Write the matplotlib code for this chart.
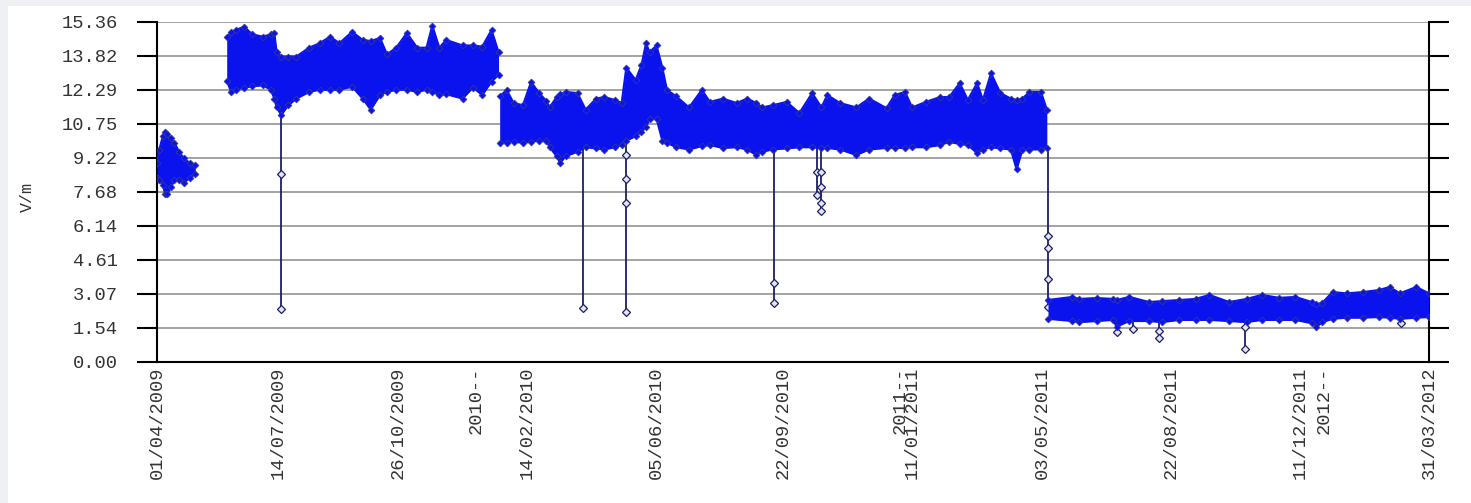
import pandas as pd
import matplotlib.pyplot as plt
from matplotlib.patches import Rectangle

seg1_dates = ["2009-04-01", "2009-04-03", "2009-04-06", "2009-04-08", "2009-04-10", "2009-04-13",
              "2009-04-16", "2009-04-20", "2009-04-24", "2009-04-29", "2009-05-04"]
seg1_high = [9.0, 9.6, 10.2, 10.4, 10.3, 10.1, 9.9, 9.5, 9.2, 9.0, 8.9]
seg1_low = [8.3, 8.2, 8.0, 7.6, 7.6, 7.9, 8.2, 8.2, 8.1, 8.3, 8.5]

seg2_dates = ["2009-05-31", "2009-06-04", "2009-06-08", "2009-06-15", "2009-06-22", "2009-07-01",
              "2009-07-08", "2009-07-11", "2009-07-13", "2009-07-17", "2009-07-23", "2009-07-30",
              "2009-08-10", "2009-08-19", "2009-08-28", "2009-09-05", "2009-09-16", "2009-09-25",
              "2009-10-02", "2009-10-10", "2009-10-16", "2009-10-24", "2009-11-02", "2009-11-11",
              "2009-11-19", "2009-11-24", "2009-11-30", "2009-12-06", "2009-12-20", "2009-12-29",
              "2010-01-06", "2010-01-14", "2010-01-20"]
seg2_high = [14.7, 14.9, 15.0, 15.15, 14.8, 14.7, 14.8, 14.86, 14.0, 13.8, 13.8, 13.8,
             14.2, 14.4, 14.7, 14.4, 14.92, 14.55, 14.5, 14.64, 13.9, 14.2, 14.86, 14.2,
             14.2, 15.2, 14.2, 14.55, 14.3, 14.3, 14.25, 15.0, 14.0]
seg2_low = [12.7, 12.2, 12.3, 12.4, 12.45, 12.5, 12.3, 11.9, 11.5, 11.16, 11.6, 11.9,
            12.2, 12.3, 12.3, 12.3, 12.44, 11.9, 11.4, 12.06, 12.2, 12.3, 12.3, 12.2,
            12.3, 12.2, 12.06, 12.1, 11.9, 12.4, 12.06, 12.67, 12.97]

seg3_dates = ["2010-01-21", "2010-01-27", "2010-02-02", "2010-02-10", "2010-02-17", "2010-02-24",
              "2010-03-02", "2010-03-05", "2010-03-11", "2010-03-14", "2010-03-19", "2010-03-29",
              "2010-04-05", "2010-04-14", "2010-04-21", "2010-04-30", "2010-05-06", "2010-05-10",
              "2010-05-18", "2010-05-23", "2010-05-27", "2010-05-30", "2010-06-05", "2010-06-10",
              "2010-06-14", "2010-06-22", "2010-07-03", "2010-07-14", "2010-07-21", "2010-08-01",
              "2010-08-13", "2010-08-22", "2010-08-30", "2010-09-04", "2010-09-13", "2010-09-25",
              "2010-10-06", "2010-10-17", "2010-10-25", "2010-10-30", "2010-11-10", "2010-11-24",
              "2010-12-05", "2010-12-20", "2010-12-27", "2011-01-05", "2011-01-11", "2011-01-23",
              "2011-02-04", "2011-02-12", "2011-02-21", "2011-02-28", "2011-03-08", "2011-03-13",
              "2011-03-20", "2011-03-28", "2011-04-06", "2011-04-11", "2011-04-16", "2011-04-22",
              "2011-05-02", "2011-05-07"]
seg3_high = [12.0, 12.29, 11.7, 11.6, 12.65, 12.15, 11.8, 11.5, 11.97, 12.1, 12.2, 12.15,
             11.4, 11.9, 11.97, 11.84, 11.7, 13.3, 12.74, 13.4, 14.4, 14.0, 14.3, 13.3,
             12.29, 12.0, 11.5, 12.29, 11.75, 11.9, 11.7, 11.9, 11.7, 11.5, 11.6, 11.75,
             11.25, 12.15, 11.5, 12.06, 11.7, 11.5, 11.9, 11.47, 12.06, 12.2, 11.5, 11.75,
             11.97, 11.97, 12.6, 11.84, 12.6, 11.84, 13.05, 12.15, 11.9, 11.84, 11.9, 12.2,
             12.2, 11.4]
seg3_low = [9.9, 9.9, 9.95, 9.9, 9.95, 10.0, 10.0, 9.7, 9.3, 9.0, 9.3, 9.5,
            9.7, 9.65, 9.6, 9.7, 9.8, 10.0, 10.2, 10.4, 10.6, 11.0, 11.0, 10.0,
            9.9, 9.7, 9.6, 9.75, 9.8, 9.67, 9.7, 9.6, 9.35, 9.5, 9.6, 9.65,
            9.7, 9.7, 9.65, 9.67, 9.6, 9.35, 9.6, 9.67, 9.67, 9.67, 9.7, 9.7,
            9.8, 9.94, 9.85, 9.8, 9.44, 9.6, 9.7, 9.65, 9.6, 8.7, 9.6, 9.6,
            9.6, 9.67]

seg4_dates = ["2011-05-08", "2011-05-29", "2011-06-04", "2011-06-19", "2011-07-03", "2011-07-06",
              "2011-07-17", "2011-08-03", "2011-08-14", "2011-08-29", "2011-09-12", "2011-09-24",
              "2011-10-11", "2011-10-26", "2011-11-08", "2011-11-23", "2011-12-07", "2011-12-21",
              "2011-12-25", "2011-12-30", "2012-01-08", "2012-01-20", "2012-02-03", "2012-02-17",
              "2012-02-26", "2012-03-06", "2012-03-20", "2012-03-31"]
seg4_high = [2.8, 2.94, 2.85, 2.89, 2.85, 2.8, 2.94, 2.71, 2.75, 2.8, 2.85, 3.03,
             2.71, 2.85, 3.03, 2.9, 2.94, 2.71, 2.6, 2.67, 3.16, 3.1, 3.16, 3.25,
             3.39, 3.1, 3.39, 3.1]
seg4_low = [1.95, 1.85, 1.8, 1.85, 1.9, 1.6, 1.85, 1.85, 1.8, 1.9, 1.9, 1.9,
            1.85, 1.8, 1.9, 1.9, 1.9, 1.75, 1.58, 1.8, 1.95, 2.0, 2.0, 2.03,
            2.0, 1.95, 2.0, 2.03]

# drop-outs: first value is where the line leaves the band
spike_dates = ["2009-07-17", "2010-04-03", "2010-05-10", "2010-09-14", "2010-10-21", "2010-10-25",
               "2011-05-08", "2011-07-06", "2011-07-20", "2011-08-12", "2011-10-25", "2012-03-07"]
spike_values = [[11.2, 8.5, 2.39], [9.7, 2.44], [9.8, 9.35, 8.27, 7.18, 2.26], [9.5, 3.57, 2.67],
                [9.7, 8.58, 7.55], [9.7, 8.58, 7.9, 7.2, 6.8], [9.7, 5.69, 5.15, 3.75, 2.5],
                [1.8, 1.36], [1.85, 1.49], [1.8, 1.4, 1.1], [1.8, 1.58, 0.59], [1.95, 1.76]]

y_ticks = [0.0, 1.536, 3.072, 4.608, 6.144, 7.68, 9.216, 10.752, 12.288, 13.824, 15.36]
y_labels = ["0.00", "1.54", "3.07", "4.61", "6.14", "7.68", "9.22", "10.75", "12.29", "13.82", "15.36"]

x_tick_dates = ["2009-04-01", "2009-07-14", "2009-10-26", "2010-01-01", "2010-02-14", "2010-06-05",
                "2010-09-22", "2011-01-01", "2011-01-11", "2011-05-03", "2011-08-22", "2011-12-11",
                "2012-01-01", "2012-03-31"]
x_tick_labels = ["01/04/2009", "14/07/2009", "26/10/2009", "2010--", "14/02/2010", "05/06/2010",
                 "22/09/2010", "2011--", "11/01/2011", "03/05/2011", "22/08/2011", "11/12/2011",
                 "2012--", "31/03/2012"]

BAND = '#0a12ee'
EDGE = '#1c1f66'
FONT = 'Liberation Mono'

fig = plt.figure(figsize=(14.71, 5.03), dpi=100)
fig.patch.set_facecolor('#eef0f3')
fig.patches.append(Rectangle((8 / 1471, 0), 1, 497 / 503, transform=fig.transFigure,
                             facecolor='white', edgecolor='none', zorder=-5))
ax = fig.add_axes([157 / 1471, 141 / 503, 1272 / 1471, 340 / 503])
ax.set_zorder(1)
ax.set_facecolor('white')

segments = [(seg1_dates, seg1_high, seg1_low), (seg2_dates, seg2_high, seg2_low),
            (seg3_dates, seg3_high, seg3_low), (seg4_dates, seg4_high, seg4_low)]
for dates, high, low in segments:
    d = pd.to_datetime(dates)
    ax.fill_between(d, low, high, color=BAND, lw=0, zorder=3)
    for edge in (high, low):
        ax.plot(d, edge, color=BAND, lw=1.5, marker='D', ms=3.5, mfc=BAND,
                mec='#3a3f8a', mew=0.5, zorder=4)

for date, vals in zip(spike_dates, spike_values):
    d = pd.to_datetime([date] * len(vals))
    ax.plot(d, vals, color=EDGE, lw=1.3, marker='D', ms=4.5, mfc='#e4e6f6', mec=EDGE,
            mew=0.9, markevery=slice(1, None), zorder=2)

ax.set_xlim(pd.Timestamp("2009-04-01"), pd.Timestamp("2012-03-31"))
ax.set_ylim(0, 15.36)
ax.set_yticks(y_ticks)
ax.set_yticklabels(y_labels, family=FONT, fontsize=13.5, color='#333333')
ax.set_xticks(pd.to_datetime(x_tick_dates))
ax.set_xticklabels(x_tick_labels, rotation=90, family=FONT, fontsize=13.5, color='#333333',
                   va='top', ha='center')

ax.tick_params(axis='y', direction='out', length=14.4, width=1.5, pad=14, right=True,
               colors='black', labelcolor='#333333')
ax.tick_params(axis='x', length=0, pad=3)
ax.yaxis.grid(True, color='#9c9c9c', lw=1.3)
ax.set_axisbelow(True)
for s in ('left', 'right', 'bottom'):
    ax.spines[s].set_linewidth(1.5)
    ax.spines[s].set_color('black')
ax.spines['top'].set_visible(False)

fig.text(27 / 1471, 1 - 197 / 503, "V/m", rotation=90, family=FONT, fontsize=12,
         color='#333333', ha='center', va='center')

fig.savefig("out.png", dpi=100, facecolor=fig.get_facecolor())
